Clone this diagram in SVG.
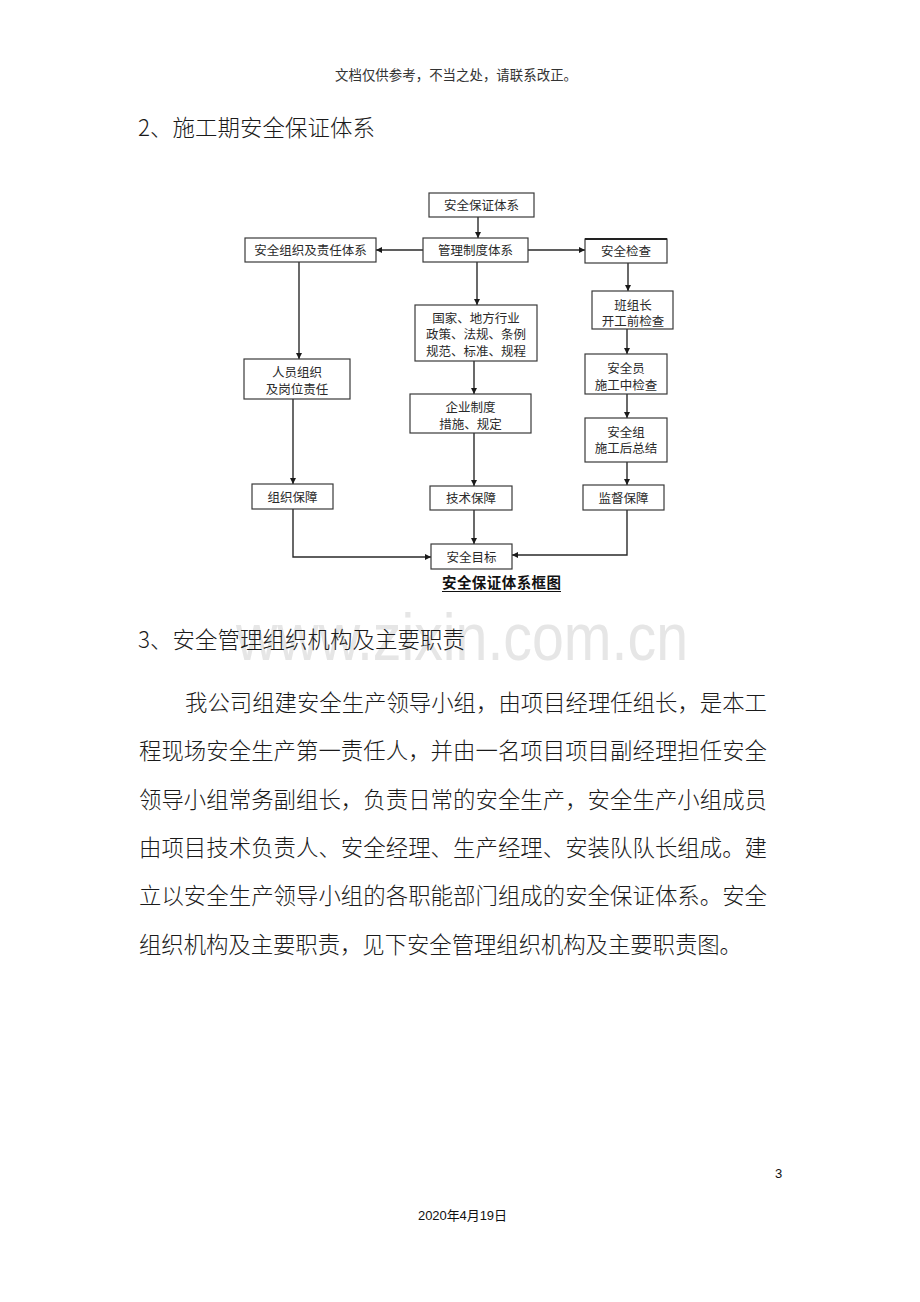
<svg xmlns="http://www.w3.org/2000/svg" width="920" height="1302" viewBox="0 0 920 1302">
<style>
.bg{fill:#ffffff}
.box{fill:#ffffff;stroke:#3a3a3a;stroke-width:1.2}
.bt{font-family:"Liberation Sans","Noto Sans CJK SC",sans-serif;font-size:12.5px;fill:#2a2a2a;text-anchor:middle}
.ln{fill:none;stroke:#2a2a2a;stroke-width:1.4}
.body{font-family:"Noto Sans CJK SC",sans-serif;font-size:22.4px;font-weight:300;fill:#1a1a1a}
.h{font-family:"Noto Sans CJK SC",sans-serif;font-size:22.4px;font-weight:300;fill:#1a1a1a}
</style>
<defs>
<marker id="ah" viewBox="0 0 10 10" refX="10" refY="5" markerWidth="6" markerHeight="6" markerUnits="userSpaceOnUse" orient="auto">
<path d="M0,0 L10,5 L0,10 z" fill="#1a1a1a"/>
</marker>
</defs>
<rect class="bg" x="0" y="0" width="920" height="1302"/>

<text x="456" y="80" font-family="Noto Sans CJK SC,sans-serif" font-size="13.4" fill="#333" text-anchor="middle" textLength="242">文档仅供参考，不当之处，请联系改正。</text>

<text class="h" x="138" y="136" textLength="237">2、施工期安全保证体系</text>

<g id="connectors">
<path class="ln" d="M478,217 V238" marker-end="url(#ah)"/>
<path class="ln" d="M423,250 H376" marker-end="url(#ah)"/>
<path class="ln" d="M528,250 H585" marker-end="url(#ah)"/>
<path class="ln" d="M628,263 V291" marker-end="url(#ah)"/>
<path class="ln" d="M627,329 V354" marker-end="url(#ah)"/>
<path class="ln" d="M627,394 V418" marker-end="url(#ah)"/>
<path class="ln" d="M627,462 V485" marker-end="url(#ah)"/>
<path class="ln" d="M299,262 V359" marker-end="url(#ah)"/>
<path class="ln" d="M293,399 V484" marker-end="url(#ah)"/>
<path class="ln" d="M477,262 V305" marker-end="url(#ah)"/>
<path class="ln" d="M474,361 V394" marker-end="url(#ah)"/>
<path class="ln" d="M474,433 V486" marker-end="url(#ah)"/>
<path class="ln" d="M474,510 V544" marker-end="url(#ah)"/>
<path class="ln" d="M293,509 V557 H431" marker-end="url(#ah)"/>
<path class="ln" d="M627,510 V555 H512" marker-end="url(#ah)"/>
</g>

<g id="n-top"><rect class="box" x="429" y="193" width="105" height="24"/><text class="bt" x="481.5" y="209.5">安全保证体系</text></g>
<g id="n-mgmt"><rect class="box" x="423" y="238" width="105" height="24"/><text class="bt" x="475.5" y="254.5">管理制度体系</text></g>
<g id="n-org"><rect class="box" x="245" y="238" width="131" height="24"/><text class="bt" x="310.5" y="254.5">安全组织及责任体系</text></g>
<g id="n-check"><rect class="box" x="585" y="239" width="82" height="24"/><line x1="585" y1="239" x2="667" y2="239" stroke="#222" stroke-width="2.2"/><text class="bt" x="626" y="255.5">安全检查</text></g>
<g id="n-team"><rect class="box" x="592" y="291" width="81" height="38"/><text class="bt" x="633" y="309.5">班组长</text><text class="bt" x="633" y="326">开工前检查</text></g>
<g id="n-law"><rect class="box" x="415" y="305" width="122" height="56"/><text class="bt" x="476" y="322.5">国家、地方行业</text><text class="bt" x="476" y="339">政策、法规、条例</text><text class="bt" x="476" y="355.5">规范、标准、规程</text></g>
<g id="n-person"><rect class="box" x="244" y="359" width="106" height="40"/><text class="bt" x="297" y="376.5">人员组织</text><text class="bt" x="297" y="393.5">及岗位责任</text></g>
<g id="n-safety"><rect class="box" x="585" y="354" width="82" height="40"/><text class="bt" x="626" y="373">安全员</text><text class="bt" x="626" y="389.5">施工中检查</text></g>
<g id="n-corp"><rect class="box" x="410" y="394" width="121" height="39"/><text class="bt" x="470.5" y="411.5">企业制度</text><text class="bt" x="470.5" y="428.5">措施、规定</text></g>
<g id="n-group"><rect class="box" x="585" y="418" width="82" height="44"/><text class="bt" x="626" y="436.5">安全组</text><text class="bt" x="626" y="452.5">施工后总结</text></g>
<g id="n-orgg"><rect class="box" x="252" y="484" width="81" height="25"/><text class="bt" x="292.5" y="502">组织保障</text></g>
<g id="n-tech"><rect class="box" x="430" y="486" width="82" height="24"/><text class="bt" x="471" y="502.5">技术保障</text></g>
<g id="n-sup"><rect class="box" x="583" y="485" width="81" height="25"/><text class="bt" x="623.5" y="502.5">监督保障</text></g>
<g id="n-goal"><rect class="box" x="431" y="544" width="81" height="25"/><text class="bt" x="471.5" y="562">安全目标</text></g>

<text x="501.5" y="588" font-family="Noto Sans CJK SC,sans-serif" font-size="14.5" font-weight="bold" fill="#111" text-anchor="middle" textLength="119">安全保证体系框图</text>
<line x1="442" y1="591.5" x2="561" y2="591.5" stroke="#111" stroke-width="1"/>

<text x="236" y="660" font-family="Liberation Sans,sans-serif" font-size="66" fill="#e6e6e6" textLength="452" lengthAdjust="spacingAndGlyphs">www.zixin.com.cn</text>

<text class="h" x="138" y="648" textLength="327">3、安全管理组织机构及主要职责</text>

<text class="body" x="185" y="711" textLength="582">我公司组建安全生产领导小组，由项目经理任组长，是本工</text>
<text class="body" x="139" y="759" textLength="628">程现场安全生产第一责任人，并由一名项目项目副经理担任安全</text>
<text class="body" x="139" y="808" textLength="628">领导小组常务副组长，负责日常的安全生产，安全生产小组成员</text>
<text class="body" x="139" y="856" textLength="628">由项目技术负责人、安全经理、生产经理、安装队队长组成。建</text>
<text class="body" x="139" y="904" textLength="628">立以安全生产领导小组的各职能部门组成的安全保证体系。安全</text>
<text class="body" x="139" y="953" textLength="603">组织机构及主要职责，见下安全管理组织机构及主要职责图。</text>

<text x="775" y="1178" font-family="Liberation Sans,sans-serif" font-size="13" fill="#111">3</text>
<text x="418" y="1220" font-family="Liberation Sans,'Noto Sans CJK SC',sans-serif" font-size="13" fill="#111" textLength="89">2020年4月19日</text>
</svg>
